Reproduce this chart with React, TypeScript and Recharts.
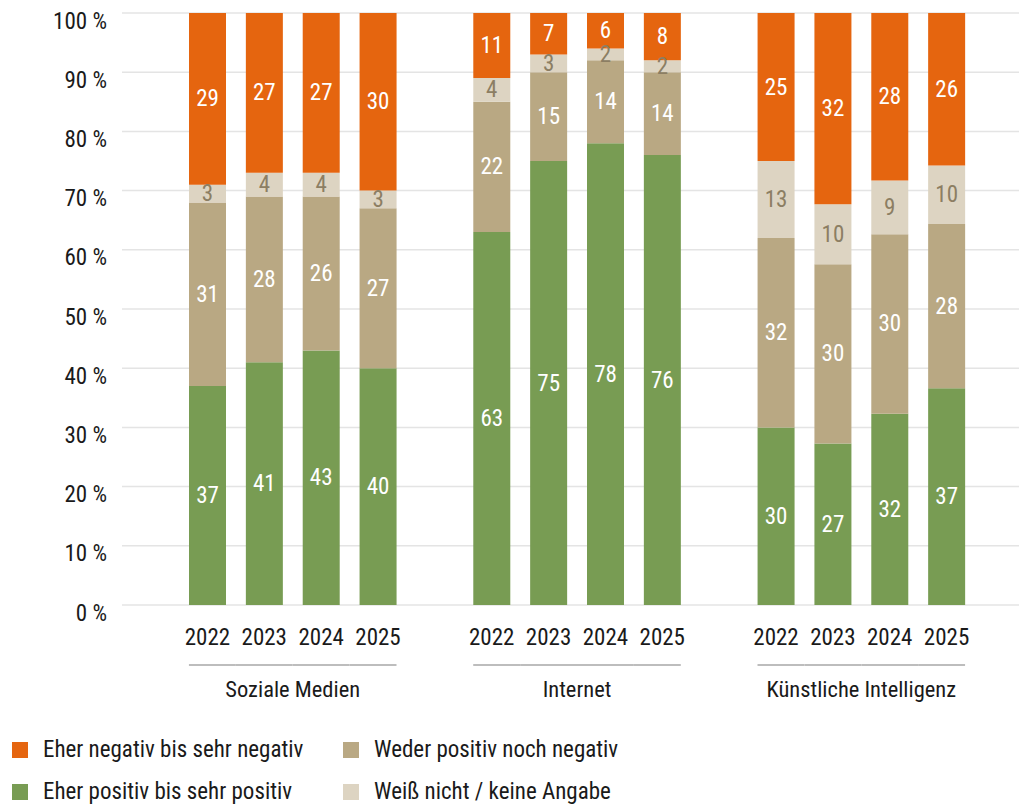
import { BarChart, Bar, XAxis, YAxis, CartesianGrid, LabelList } from "recharts";

const groups = ["Soziale Medien", "Internet", "Künstliche Intelligenz"];
const years = ["2022", "2023", "2024", "2025"];

// per group, per year (2022..2025)
const positive = [
  [37, 41, 43, 40],
  [63, 75, 78, 76],
  [30, 27, 32, 37],
];
const neutral = [
  [31, 28, 26, 27],
  [22, 15, 14, 14],
  [32, 30, 30, 28],
];
const dontKnow = [
  [3, 4, 4, 3],
  [4, 3, 2, 2],
  [13, 10, 9, 10],
];
const negative = [
  [29, 27, 27, 30],
  [11, 7, 6, 8],
  [25, 32, 28, 26],
];

const yTicks = [0, 0.1, 0.2, 0.3, 0.4, 0.5, 0.6, 0.7, 0.8, 0.9, 1];

const COLORS = {
  negative: "#e5650f",
  positive: "#789c53",
  neutral: "#b9a883",
  dontKnow: "#ddd4c2",
};

const FONT = "'Roboto Condensed', Roboto, 'Noto Sans', sans-serif";

// build rows with an empty slot between groups
const rows: any[] = [];
groups.forEach((g, gi) => {
  if (gi > 0) rows.push({ key: "gap" + gi });
  years.forEach((y, yi) => {
    rows.push({
      key: g + y,
      year: y,
      group: g,
      pos: yi,
      positive: positive[gi][yi],
      neutral: neutral[gi][yi],
      dontKnow: dontKnow[gi][yi],
      negative: negative[gi][yi],
    });
  });
});

const CHART_W = 1019;
const PLOT_LEFT = 122;
const PAD_L = 57;
const PAD_R = 44;
const BAND = (CHART_W - PLOT_LEFT - PAD_L - PAD_R) / rows.length;
const BAR = 37;
const FS = 23;

const textStyle = { fontFamily: FONT, fontStretch: "condensed" as const };

const makeLabel = (fill: string) => (props: any) => {
  const { x, y, width, height, value } = props;
  if (value === undefined || value === null) return null;
  return (
    <text
      x={x + width / 2}
      y={y + height / 2}
      textAnchor="middle"
      dominantBaseline="central"
      fill={fill}
      fontSize={FS}
      style={textStyle}
    >
      {value}
    </text>
  );
};

const YTick = ({ x, y, payload }: any) => (
  <text x={x} y={y + 8} textAnchor="end" dominantBaseline="central" fill="#1a1a1a" fontSize={FS} style={textStyle}>
    {Math.round(payload.value * 100)} %
  </text>
);

const XTick = ({ x, y, index }: any) => {
  const row = rows[index];
  if (!row || !row.year) return null;
  const x1 = row.pos === 0 ? x - BAR / 2 : x - BAND / 2;
  const x2 = row.pos === 3 ? x + BAR / 2 : x + BAND / 2;
  return (
    <g>
      <text x={x} y={y + 40} textAnchor="middle" fill="#1a1a1a" fontSize={FS} style={textStyle}>
        {row.year}
      </text>
      <line x1={x1} x2={x2} y1={y + 60} y2={y + 60} stroke="#bdbdbd" strokeWidth={2} />
      {row.pos === 1 && (
        <text x={x + BAND / 2} y={y + 92} textAnchor="middle" fill="#1a1a1a" fontSize={22.5} style={textStyle}>
          {row.group}
        </text>
      )}
    </g>
  );
};

const legendItems = [
  { name: "Eher negativ bis sehr negativ", color: COLORS.negative, left: 12, top: 742 },
  { name: "Weder positiv noch negativ", color: COLORS.neutral, left: 343, top: 742 },
  { name: "Eher positiv bis sehr positiv", color: COLORS.positive, left: 12, top: 784 },
  { name: "Weiß nicht / keine Angabe", color: COLORS.dontKnow, left: 343, top: 784 },
];

export default function App() {
  return (
    <div style={{ position: "absolute", left: 0, top: 0, width: 1019, height: 806, background: "#fff" }}>
      <BarChart
        width={CHART_W}
        height={720}
        data={rows}
        stackOffset="expand"
        margin={{ top: 13, right: 0, bottom: 0, left: 0 }}
        barSize={BAR}
      >
        <CartesianGrid vertical={false} stroke="#e4e4e4" strokeWidth={1.5} />
        <XAxis
          dataKey="key"
          axisLine={false}
          tickLine={false}
          tickSize={0}
          tickMargin={0}
          height={115}
          interval={0}
          padding={{ left: PAD_L, right: PAD_R }}
          tick={<XTick />}
        />
        <YAxis
          width={PLOT_LEFT}
          domain={[0, 1]}
          ticks={yTicks}
          axisLine={false}
          tickLine={false}
          tickSize={0}
          tickMargin={15}
          tick={<YTick />}
        />
        <Bar dataKey="positive" stackId="a" fill={COLORS.positive} isAnimationActive={false}>
          <LabelList dataKey="positive" content={makeLabel("#ffffff")} />
        </Bar>
        <Bar dataKey="neutral" stackId="a" fill={COLORS.neutral} isAnimationActive={false}>
          <LabelList dataKey="neutral" content={makeLabel("#ffffff")} />
        </Bar>
        <Bar dataKey="dontKnow" stackId="a" fill={COLORS.dontKnow} isAnimationActive={false}>
          <LabelList dataKey="dontKnow" content={makeLabel("#8c7e63")} />
        </Bar>
        <Bar dataKey="negative" stackId="a" fill={COLORS.negative} isAnimationActive={false}>
          <LabelList dataKey="negative" content={makeLabel("#ffffff")} />
        </Bar>
      </BarChart>
      {legendItems.map((it) => (
        <div
          key={it.name}
          style={{
            position: "absolute",
            left: it.left,
            top: it.top,
            display: "flex",
            alignItems: "center",
            fontFamily: FONT,
            fontStretch: "condensed",
            fontSize: FS,
            color: "#1a1a1a",
            lineHeight: "16px",
            whiteSpace: "nowrap",
          }}
        >
          <span style={{ width: 16, height: 16, background: it.color, display: "inline-block", marginRight: 15 }} />
          {it.name}
        </div>
      ))}
    </div>
  );
}
